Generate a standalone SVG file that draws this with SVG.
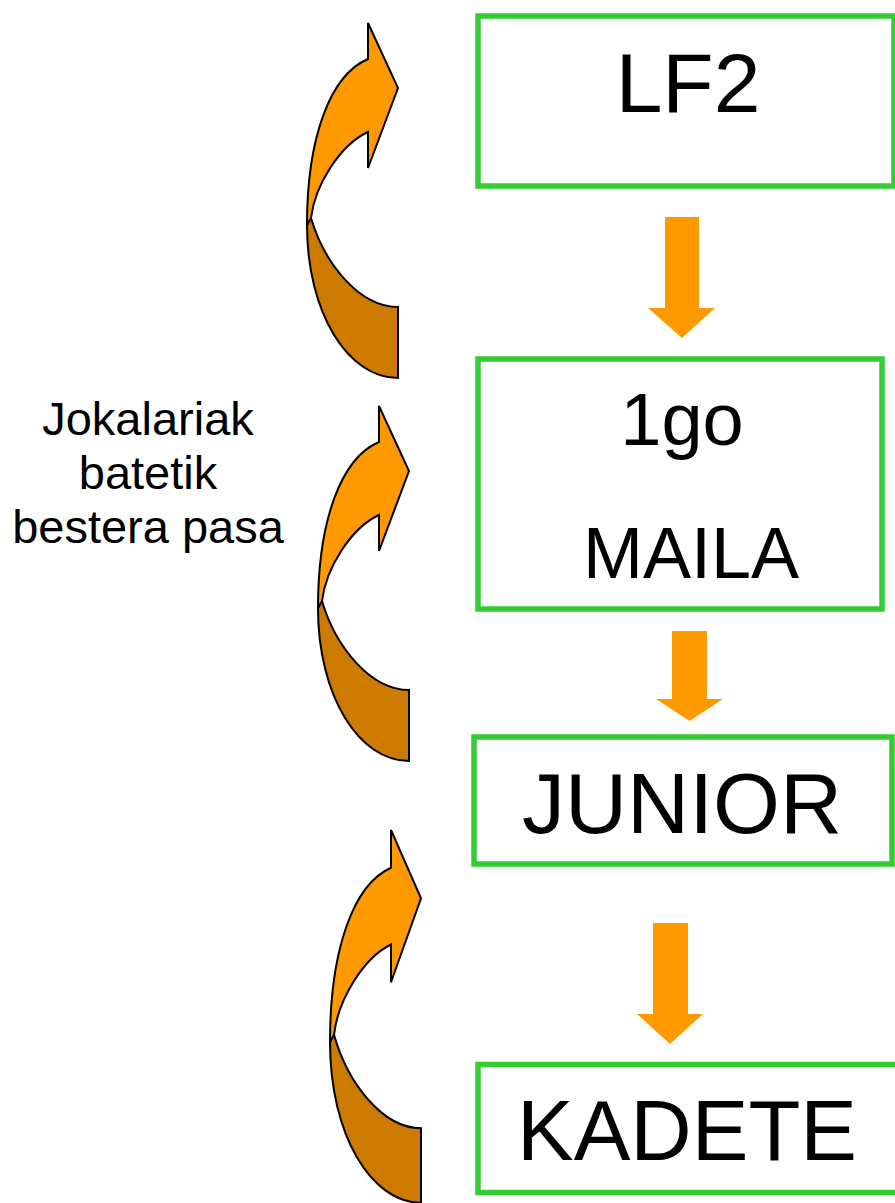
<svg xmlns="http://www.w3.org/2000/svg" width="895" height="1203" viewBox="0 0 895 1203">
<style>
.box{fill:#ffffff;stroke:#33CC33;stroke-width:5.5}
.lbl{font-family:"Liberation Sans",Arial,sans-serif;fill:#000;text-anchor:middle}
.down{fill:#FF9900}
.lite{fill:#FF9900;stroke:#000;stroke-width:2;stroke-linejoin:miter}
.dark{fill:#CC7A00;stroke:#000;stroke-width:2}
</style>
<defs>
<g id="curved">
<path class="dark" d="M-57,195 C-43,242 -8,284 30,284 L30,355 C-20,355 -61,290 -61,202 Z"/>
<path class="lite" d="M0,36 C-38,52 -61,115 -61,202 L-57,195 C-53,162 -28,122 0,109 L0,145 L30,65 L0,0 Z"/>
</g>
</defs>
<rect width="895" height="1203" fill="#ffffff"/>
<g id="connectors">
<path class="down" d="M665,217 H699 V308 H715 L682,338 L648,308 H665 Z"/>
<path class="down" d="M672,631 H707 V699 H723 L689.5,721 L656,699 H672 Z"/>
<path class="down" d="M653,923 H688 V1014 H703 L670,1044 L637,1014 H653 Z"/>
<use href="#curved" transform="translate(368,23)"/>
<use href="#curved" transform="translate(379,406)"/>
<use href="#curved" transform="translate(391,830) scale(1,1.05)"/>
</g>
<g id="node-lf2">
<rect class="box" x="478" y="16" width="416" height="170"/>
<text class="lbl" x="688" y="112" font-size="84">LF2</text>
</g>
<g id="node-1go-maila">
<rect class="box" x="478" y="359" width="404" height="250"/>
<text class="lbl" x="682" y="445" font-size="74">1go</text>
<text class="lbl" x="691" y="578" font-size="72">MAILA</text>
</g>
<g id="node-junior">
<rect class="box" x="474" y="737" width="418" height="127"/>
<text class="lbl" x="682" y="833" font-size="86">JUNIOR</text>
</g>
<g id="node-kadete">
<rect class="box" x="478" y="1064.5" width="420" height="128"/>
<text class="lbl" x="687" y="1160" font-size="85">KADETE</text>
</g>
<g id="note">
<text class="lbl" x="148" y="435" font-size="47">Jokalariak</text>
<text class="lbl" x="148" y="489" font-size="47">batetik</text>
<text class="lbl" x="148" y="543" font-size="47">bestera pasa</text>
</g>
</svg>
